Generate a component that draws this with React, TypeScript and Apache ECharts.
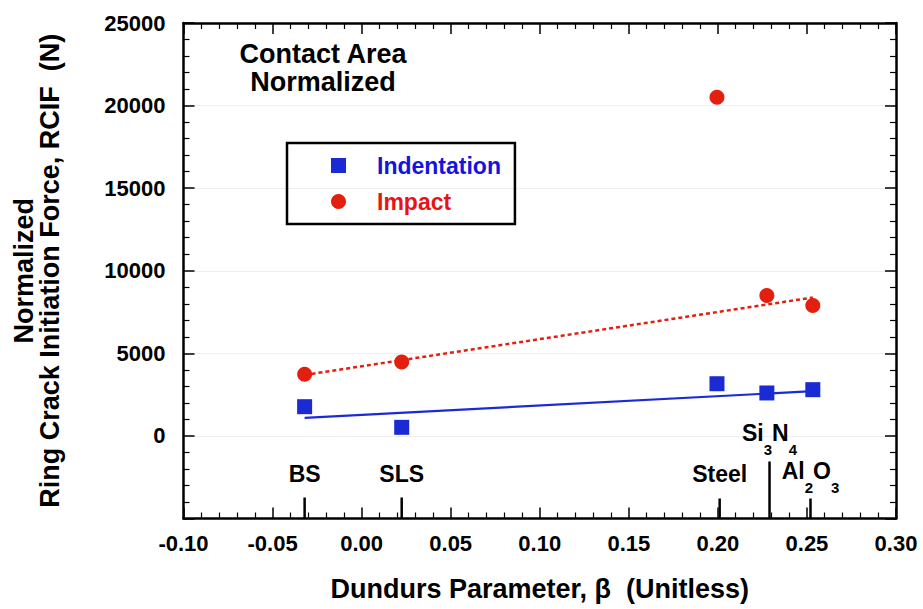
import React, { useEffect, useRef } from 'react';
import * as echarts from 'echarts';

// ---- data ----
const materials = ['BS', 'SLS', 'Steel', 'Si3N4', 'Al2O3'];
const materialBeta = [-0.032, 0.0225, 0.201, 0.229, 0.252];
const sampleBeta = [-0.032, 0.0225, 0.1995, 0.2275, 0.2533];
const indentation = [1770, 520, 3160, 2600, 2800];
const impact = [3730, 4470, 20500, 8500, 7900];
const fitBeta = [-0.032, 0.2533];
const indentationFit = [1090, 2710];
const impactFit = [3690, 8380];
const xRange = [-0.1, 0.3];
const yRange = [-5000, 25000];

// ---- styles ----
const FONT = "'Liberation Sans', Arial, Helvetica, sans-serif";
const BLUE = '#1a2bd6';
const RED = '#e3200f';
const BLUE_TEXT = '#1414e0';
const RED_TEXT = '#e81414';

const materialLabel: Record<string, string> = {
  BS: '{m|BS}',
  SLS: '{m|SLS}',
  Steel: '{m|Steel}',
  Si3N4: '{m|Si}{s|3}{m|N}{s|4}',
  Al2O3: '{m|Al}{s|2}{m|O}{s|3}',
};
const markerLayout: Record<string, { tick: number; text: number }> = {
  BS: { tick: 21, text: 56 },
  SLS: { tick: 21, text: 56 },
  Steel: { tick: 20, text: 56 },
  Si3N4: { tick: 57, text: 97 },
  Al2O3: { tick: 20, text: 59 },
};
const labelRich = {
  m: { fontSize: 23, fontWeight: 'bold', fontFamily: FONT, lineHeight: 22, verticalAlign: 'top', color: '#000' },
  s: { fontSize: 15, fontWeight: 'bold', fontFamily: FONT, lineHeight: 56, color: '#000' },
};

const tickCommon = {
  axisLine: { show: true, onZero: false, lineStyle: { color: '#000', width: 2.5 } },
  axisTick: { show: true, inside: true, length: 11, lineStyle: { color: '#000', width: 1.5 } },
  minorTick: { show: true, splitNumber: 5, length: 6, lineStyle: { color: '#000', width: 1.2 } },
};

export default function App() {
  const ref = useRef<HTMLDivElement>(null);
  useEffect(() => {
    if (!ref.current) return;
    const chart = echarts.init(ref.current, null, { renderer: 'svg' });
    const xAxisBase = {
      type: 'value',
      min: xRange[0],
      max: xRange[1],
      interval: 0.05,
      ...tickCommon,
      splitLine: { show: false },
    };
    const yAxisBase = {
      type: 'value',
      min: yRange[0],
      max: yRange[1],
      interval: 5000,
      ...tickCommon,
    };
    chart.setOption({
      animation: false,
      backgroundColor: '#ffffff',
      grid: { left: 183.5, right: 27, top: 23, bottom: 90.5, containLabel: false },
      xAxis: [
        {
          ...xAxisBase,
          position: 'bottom',
          name: 'Dundurs Parameter, β  (Unitless)',
          nameLocation: 'middle',
          nameGap: 57,
          nameTextStyle: { fontSize: 27, fontWeight: 'bold', fontFamily: FONT, color: '#000' },
          axisLabel: {
            fontSize: 22,
            fontWeight: 'bold',
            fontFamily: FONT,
            color: '#000',
            margin: 14,
            formatter: (v: number) => (Math.abs(v) < 1e-9 ? 0 : v).toFixed(2),
          },
        },
        { ...xAxisBase, position: 'top', axisLabel: { show: false } },
      ],
      yAxis: [
        {
          ...yAxisBase,
          position: 'left',
          name: 'Normalized\nRing Crack Initiation Force, RCIF  (N)',
          nameLocation: 'middle',
          nameGap: 121,
          nameRotate: 90,
          nameTextStyle: { fontSize: 27, fontWeight: 'bold', fontFamily: FONT, color: '#000', lineHeight: 26 },
          splitLine: { show: true, lineStyle: { color: '#eeeeee', width: 1 } },
          axisLabel: {
            fontSize: 22,
            fontWeight: 'bold',
            fontFamily: FONT,
            color: '#000',
            margin: 18,
            formatter: (v: number) => (v < 0 ? '' : String(v)),
          },
        },
        { ...yAxisBase, position: 'right', axisLabel: { show: false }, splitLine: { show: false } },
      ],
      legend: {
        data: [
          { name: 'Indentation', textStyle: { color: BLUE_TEXT } },
          { name: 'Impact', textStyle: { color: RED_TEXT } },
        ],
        orient: 'vertical',
        left: 287,
        top: 143,
        padding: [11, 14, 11, 44],
        itemWidth: 15,
        itemHeight: 15,
        itemGap: 13,
        borderColor: '#000',
        borderWidth: 2.5,
        selectedMode: false,
        formatter: (n: string) => `{p| }${n}`,
        textStyle: {
          fontSize: 23,
          fontWeight: 'bold',
          fontFamily: FONT,
          rich: { p: { width: 26 } },
        },
      },
      graphic: [
        {
          type: 'text',
          x: 323,
          y: 68,
          style: {
            text: 'Contact Area\nNormalized',
            fontSize: 27,
            fontWeight: 'bold',
            fontFamily: FONT,
            lineHeight: 28,
            fill: '#000',
            align: 'center',
            verticalAlign: 'middle',
          },
        },
      ],
      series: [
        {
          name: 'Indentation fit',
          type: 'line',
          data: fitBeta.map((b, i) => [b, indentationFit[i]]),
          showSymbol: false,
          symbol: 'none',
          lineStyle: { color: BLUE, width: 2.2 },
          z: 2,
          silent: true,
        },
        {
          name: 'Impact fit',
          type: 'line',
          data: fitBeta.map((b, i) => [b, impactFit[i]]),
          showSymbol: false,
          symbol: 'none',
          lineStyle: { color: RED, width: 2.5, type: [4, 3] },
          z: 2,
          silent: true,
        },
        {
          name: 'Indentation',
          type: 'scatter',
          symbol: 'rect',
          symbolSize: 15,
          itemStyle: { color: BLUE, opacity: 1 },
          data: sampleBeta.map((b, i) => [b, indentation[i]]),
          z: 3,
        },
        {
          name: 'Impact',
          type: 'scatter',
          symbol: 'circle',
          symbolSize: 15,
          itemStyle: { color: RED, opacity: 1 },
          data: sampleBeta.map((b, i) => [b, impact[i]]),
          z: 3,
        },
        {
          name: 'Materials',
          type: 'custom',
          silent: true,
          data: materialBeta.map((b, i) => [b, i]),
          encode: { x: 0, y: 1 },
          renderItem: (params: any, api: any) => {
            const i = api.value(1);
            const name = materials[i];
            const st = markerLayout[name];
            const base = api.coord([api.value(0), yRange[0]]);
            return {
              type: 'group',
              children: [
                {
                  type: 'line',
                  shape: { x1: base[0], y1: base[1], x2: base[0], y2: base[1] - st.tick },
                  style: { stroke: '#000', lineWidth: 2.5 },
                },
                {
                  type: 'text',
                  x: base[0],
                  y: base[1] - st.text,
                  style: {
                    text: materialLabel[name],
                    rich: labelRich,
                    align: 'center',
                    verticalAlign: 'top',
                    fill: '#000',
                  },
                },
              ],
            };
          },
        },
      ],
    });
    return () => chart.dispose();
  }, []);
  return (
    <div
      ref={ref}
      style={{ position: 'fixed', left: 0, top: 0, width: 923, height: 609, background: '#fff' }}
    />
  );
}
